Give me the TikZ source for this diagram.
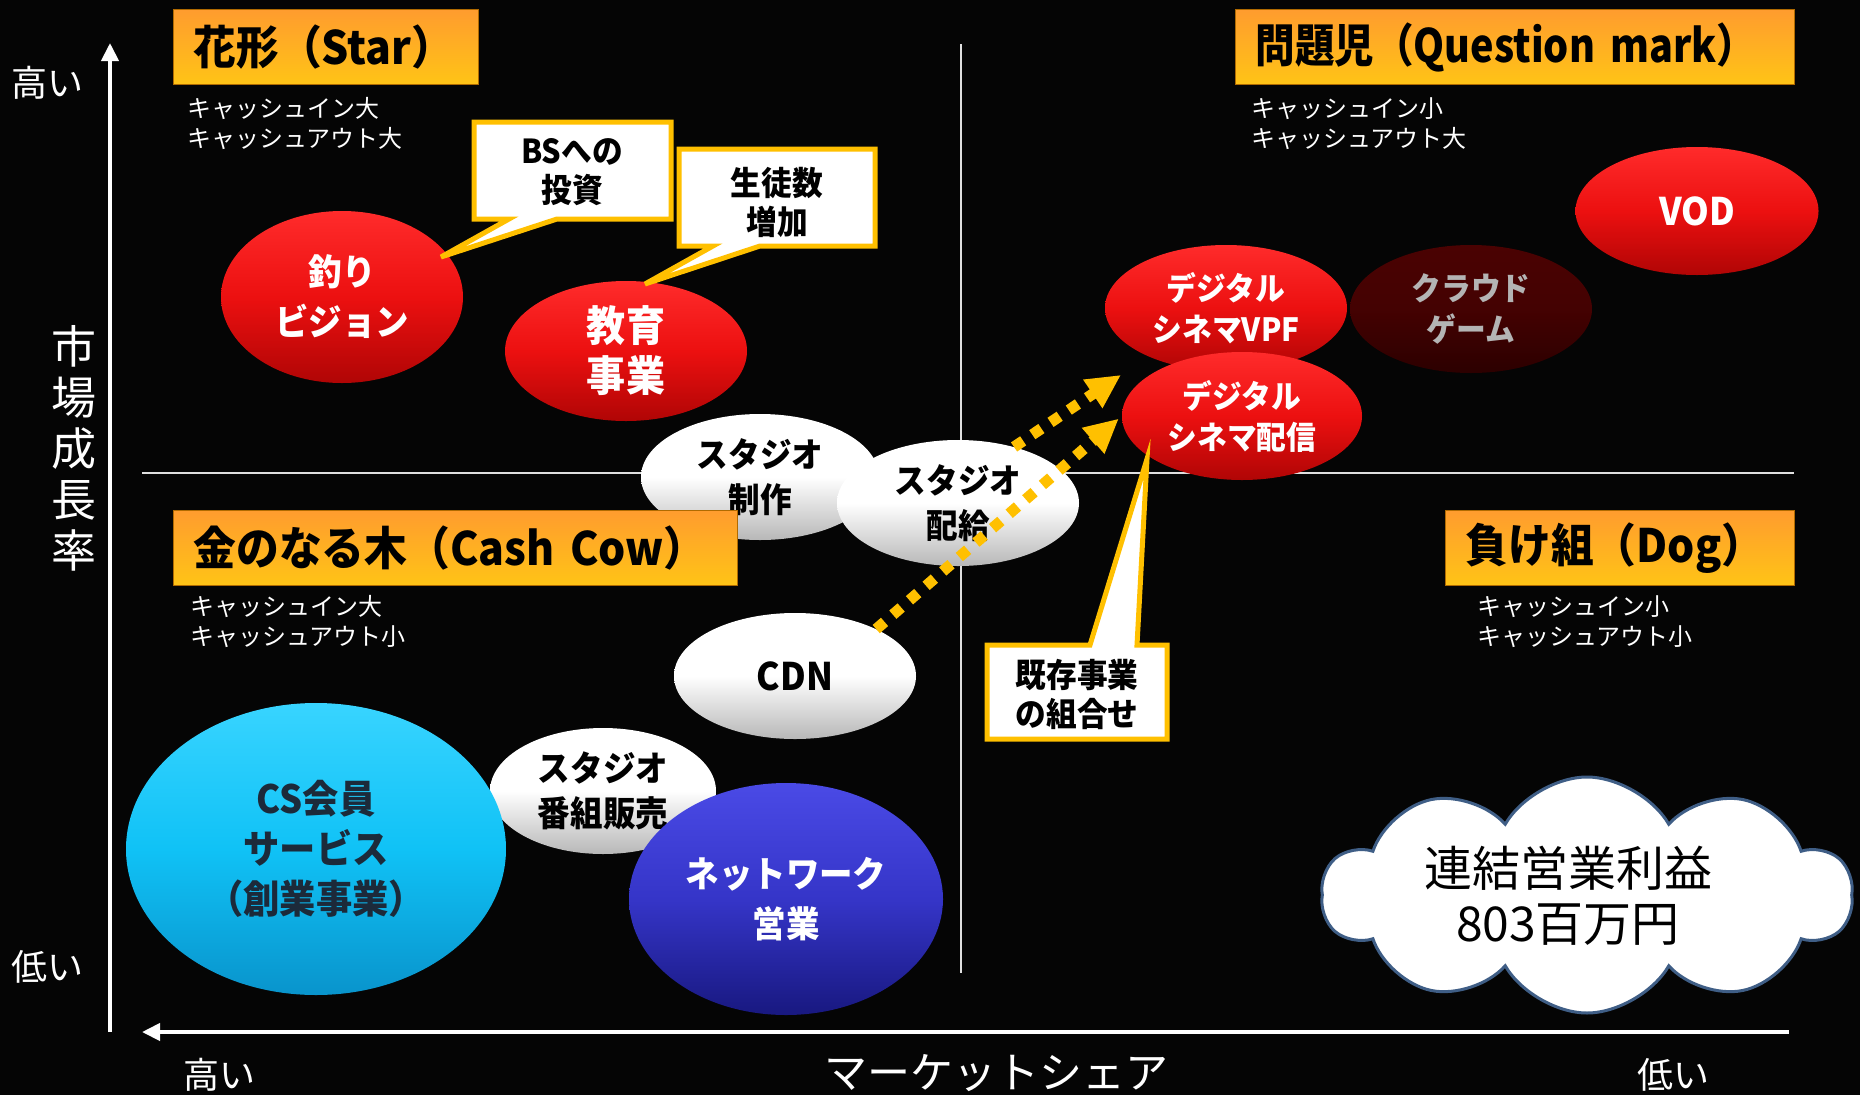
\documentclass[tikz,border=0pt]{standalone}
\usepackage{fontspec}
\newfontfamily\jp{Noto Sans CJK JP}
\newfontfamily\jpc[FakeStretch=0.93]{Noto Sans CJK JP}
\newfontfamily\jpq[FakeStretch=0.86]{Noto Sans CJK JP}
\usetikzlibrary{shapes.geometric,shapes.symbols,arrows.meta}
\definecolor{bgc}{HTML}{050505}
\definecolor{gold}{HTML}{FFC000}
\definecolor{redT}{HTML}{FF2B2B}
\definecolor{redM}{HTML}{EC1010}
\definecolor{redB}{HTML}{B00505}
\definecolor{cyT}{HTML}{38D4FF}
\definecolor{cyM}{HTML}{10C2F6}
\definecolor{cyB}{HTML}{0994CC}
\definecolor{blT}{HTML}{4A4AE6}
\definecolor{blM}{HTML}{3535C8}
\definecolor{blB}{HTML}{181880}
\definecolor{drT}{HTML}{4A0202}
\definecolor{drB}{HTML}{2C0000}
\definecolor{cstext}{HTML}{1C2A3A}
\definecolor{cgtext}{HTML}{B4B4B4}
\definecolor{orT}{HTML}{FF9C2E}
\definecolor{orB}{HTML}{FFC416}
\definecolor{orD}{HTML}{B06A00}
\definecolor{cloudln}{HTML}{3F5E86}
\begin{document}
\begin{tikzpicture}[x=1pt,y=-1pt,
  bubble/.style={ellipse, inner sep=0pt, align=center},
  redbub/.style={bubble, top color=redT, bottom color=redB, middle color=redM, text=white},
  whitebub/.style={bubble, top color=white, bottom color=black!28, middle color=white, text=black},
  cyanbub/.style={bubble, top color=cyT, bottom color=cyB, middle color=cyM, text=cstext},
  bluebub/.style={bubble, top color=blT, bottom color=blB, middle color=blM, text=white},
  darkbub/.style={bubble, top color=drT, bottom color=drB, middle color=drT!80!drB, text=cgtext},
  titlebox/.style={rectangle, draw=orD, line width=1.2pt, top color=orT, bottom color=orB,
     minimum height=75pt, inner xsep=20pt, inner ysep=0pt, align=left, text=black,
     font=\jpc\bfseries\fontsize{46}{50}\selectfont},
  subtxt/.style={align=left, inner sep=0pt, text=white, font=\jp\fontsize{24}{30}\selectfont},
  callout/.style={fill=white, draw=gold, line width=5pt, line join=miter},
  callouttext/.style={align=center, inner sep=0pt, text=black, font=\jpc\bfseries\fontsize{33}{39}\selectfont},
  dotarrow/.style={draw=gold, line width=11pt, dash pattern=on 11pt off 11pt, -{Triangle[length=34pt,width=32pt]}},
  divline/.style={draw=white!88!black, line width=2pt},
  axisline/.style={draw=white, line width=4pt, -{Triangle[length=18pt,width=17pt]}},
  axlbl/.style={text=white, inner sep=0pt, font=\jp\fontsize{36}{40}\selectfont}
]
\useasboundingbox (0,0) rectangle (1860,1095);
\fill[bgc] (0,0) rectangle (1860,1095);

% quadrant lines
\draw[divline] (961,44) -- (961,973);
\draw[divline] (142,473) -- (1794,473);

% axes
\draw[axisline] (110,1032) -- (110,43);
\draw[axisline] (1789,1032) -- (142,1032);

% bubbles
\node[redbub, minimum width=242pt, minimum height=172pt, font=\jpc\bfseries\fontsize{36}{50}\selectfont] (tsuri) at (342,297) {釣り\\ビジョン};
\node[redbub, minimum width=242pt, minimum height=140pt, font=\jpc\bfseries\fontsize{42}{50}\selectfont] (kyoiku) at (626,351) {教育\\事業};
\node[whitebub, minimum width=238pt, minimum height=126pt, font=\jpc\bfseries\fontsize{34}{45}\selectfont] (seisaku) at (760,477) {スタジオ\\制作};
\node[whitebub, minimum width=242pt, minimum height=126pt, font=\jpc\bfseries\fontsize{34}{45}\selectfont] (haikyu) at (958,503) {スタジオ\\配給};
\node[whitebub, minimum width=242pt, minimum height=126pt, font=\jpc\bfseries\fontsize{38}{45}\selectfont] (cdn) at (795,676) {CDN};
\node[whitebub, minimum width=226pt, minimum height=126pt, font=\jpc\bfseries\fontsize{35}{45}\selectfont] (hanbai) at (603,791) {スタジオ\\番組販売};
\node[cyanbub, minimum width=380pt, minimum height=292pt, font=\jpc\bfseries\fontsize{39}{50}\selectfont] (cs) at (316,849) {CS会員\\サービス\\（創業事業）};
\node[bluebub, minimum width=314pt, minimum height=232pt, font=\jpc\bfseries\fontsize{36}{50}\selectfont] (nw) at (786,899) {ネットワーク\\営業};
\node[redbub, minimum width=242pt, minimum height=126pt, font=\jpc\bfseries\fontsize{32}{41}\selectfont] (vpf) at (1226,308) {デジタル\\シネマVPF};
\node[redbub, minimum width=240pt, minimum height=128pt, font=\jpc\bfseries\fontsize{32}{41}\selectfont] (dcd) at (1242,416) {デジタル\\シネマ配信};
\node[darkbub, minimum width=242pt, minimum height=128pt, font=\jpc\bfseries\fontsize{32}{41}\selectfont] (cloudg) at (1471,309) {クラウド\\ゲーム};
\node[redbub, minimum width=243pt, minimum height=128pt, font=\jpc\bfseries\fontsize{38}{45}\selectfont] (vod) at (1697,211) {VOD};

% title boxes
\node[titlebox, text width=265pt, anchor=north west] (tstar) at (173,9) {花形（Star）};
\node[titlebox, text width=519pt, anchor=north west, font=\jpq\bfseries\fontsize{46}{50}\selectfont] (tques) at (1235,9) {問題児（Question mark）};
\node[titlebox, text width=524pt, anchor=north west] (tcash) at (173,510) {金のなる木（Cash Cow）};
\node[titlebox, text width=309pt, anchor=north west] (tdog) at (1445,510) {負け組（Dog）};

% sub texts
\node[subtxt, anchor=west] (sstar) at (187,124) {キャッシュイン大\\キャッシュアウト大};
\node[subtxt, anchor=west] (sques) at (1251,124) {キャッシュイン小\\キャッシュアウト大};
\node[subtxt, anchor=west] (scash) at (190,622) {キャッシュイン大\\キャッシュアウト小};
\node[subtxt, anchor=west] (sdog) at (1477,622) {キャッシュイン小\\キャッシュアウト小};

% callouts
\filldraw[callout] (474,122) -- (671,122) -- (671,219) -- (557,219) -- (441,257) -- (509,219) -- (474,219) -- cycle;
\node[callouttext] (cbs) at (572,172) {BSへの\\投資};
\filldraw[callout] (679,149) -- (875,149) -- (875,246) -- (760,246) -- (645,284) -- (713,246) -- (679,246) -- cycle;
\node[callouttext] (cst) at (777,202) {生徒数\\増加};
\filldraw[callout] (987,645) -- (1090,645) -- (1147,459) -- (1137,645) -- (1167,645) -- (1167,739) -- (987,739) -- cycle;
\node[callouttext] (cki) at (1077,694) {既存事業\\の組合せ};

% dotted arrows
\draw[dotarrow, shorten >=4pt] (cdn.30) -- (dcd.west);
\draw[dotarrow, shorten >=33pt] (haikyu.45) -- (vpf.212);

% cloud
\node[cloud, cloud puffs=10, cloud puff arc=120, cloud ignores aspect, minimum width=530pt, minimum height=236pt, draw=cloudln, line width=3pt, fill=white, inner sep=0pt] (cloud) at (1587,895) {};
\node[font=\jp\fontsize{48}{55}\selectfont, align=center, text=black, inner sep=0pt] (cloudtxt) at (1568,896) {連結営業利益\\803百万円};

% axis labels
\node[axlbl] (hiY) at (47,83) {高い};
\node[axlbl] (loY) at (47,967) {低い};
\node[axlbl, font=\jp\fontsize{45}{51}\selectfont, align=center] (ylab) at (74,448) {市\\場\\成\\長\\率};
\node[axlbl] (hiX) at (219,1075) {高い};
\node[axlbl, font=\jp\fontsize{43}{50}\selectfont] (xlab) at (996,1073) {マーケットシェア};
\node[axlbl] (loX) at (1673,1075) {低い};
\end{tikzpicture}
\end{document}
